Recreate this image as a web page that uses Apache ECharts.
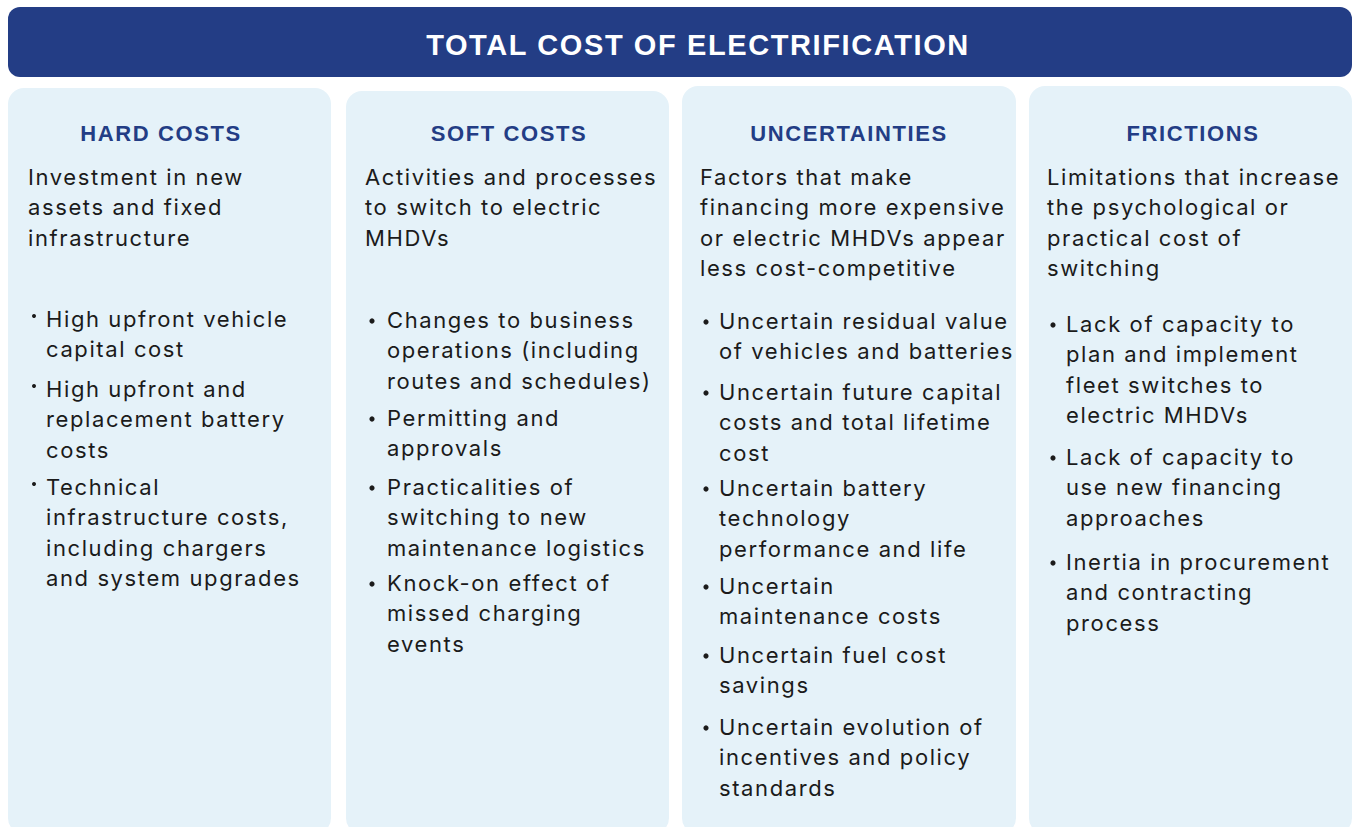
<!DOCTYPE html>
<html>
<head>
<meta charset="utf-8">
<script src="https://cdn.jsdelivr.net/npm/echarts@6/dist/echarts.min.js"></script>
<style>
html, body { margin: 0; padding: 0; background: #fff; }
#main { width: 1353px; height: 827px; }
/* 原图文字字距较宽 */
#main svg text { letter-spacing: 1.6px; }
</style>
</head>
<body>
<div id="main"></div>
<script>
var chartDom = document.getElementById('main');
var myChart = echarts.init(chartDom, null, {renderer: 'svg'});

// 文本内容
var title = 'TOTAL COST OF ELECTRIFICATION';
var headings = ['HARD COSTS', 'SOFT COSTS', 'UNCERTAINTIES', 'FRICTIONS'];
var descriptions = [
    ['Investment in new', 'assets and fixed', 'infrastructure'],
    ['Activities and processes', 'to switch to electric', 'MHDVs'],
    ['Factors that make', 'financing more expensive', 'or electric MHDVs appear', 'less cost-competitive'],
    ['Limitations that increase', 'the psychological or', 'practical cost of', 'switching']
];
var bullets = [
    [
        ['High upfront vehicle', 'capital cost'],
        ['High upfront and', 'replacement battery', 'costs'],
        ['Technical', 'infrastructure costs,', 'including chargers', 'and system upgrades']
    ],
    [
        ['Changes to business', 'operations (including', 'routes and schedules)'],
        ['Permitting and', 'approvals'],
        ['Practicalities of', 'switching to new', 'maintenance logistics'],
        ['Knock-on effect of', 'missed charging', 'events']
    ],
    [
        ['Uncertain residual value', 'of vehicles and batteries'],
        ['Uncertain future capital', 'costs and total lifetime', 'cost'],
        ['Uncertain battery', 'technology', 'performance and life'],
        ['Uncertain', 'maintenance costs'],
        ['Uncertain fuel cost', 'savings'],
        ['Uncertain evolution of', 'incentives and policy', 'standards']
    ],
    [
        ['Lack of capacity to', 'plan and implement', 'fleet switches to', 'electric MHDVs'],
        ['Lack of capacity to', 'use new financing', 'approaches'],
        ['Inertia in procurement', 'and contracting', 'process']
    ]
];

// 布局
var panels = [
    {x: 8, y: 88, w: 323, headX: 161, textX: 28, dotX: 34, bulletX: 46, bulletY: [319, 389, 487]},
    {x: 346, y: 91, w: 323, headX: 509, textX: 365, dotX: 372, bulletX: 387, bulletY: [320, 418, 487, 583]},
    {x: 682, y: 86, w: 334, headX: 849, textX: 700, dotX: 706, bulletX: 719, bulletY: [321, 392, 488, 586, 655, 727]},
    {x: 1029, y: 86, w: 323, headX: 1193, textX: 1047, dotX: 1053, bulletX: 1066, bulletY: [324, 457, 562]}
];
var lineH = 30.4;
var navy = '#233d85';
var bodyFont = 'Inter, "Noto Sans", sans-serif';
var headFont = '"Liberation Sans", Arial, sans-serif';
var textColor = '#1b1b1b';

var elements = [];
// 标题栏
elements.push({
    type: 'rect',
    shape: {x: 8, y: 7, width: 1344, height: 70, r: 12},
    style: {fill: navy}
});
elements.push({
    type: 'text',
    style: {
        x: 698, y: 45, text: title, fill: '#fff',
        font: 'bold 29px ' + headFont,
        align: 'center', verticalAlign: 'middle'
    }
});

panels.forEach(function (p, i) {
    elements.push({
        type: 'rect',
        shape: {x: p.x, y: p.y, width: p.w, height: 834 - p.y, r: 16},
        style: {fill: '#e5f2f9'}
    });
    elements.push({
        type: 'text',
        style: {
            x: p.headX, y: 133, text: headings[i], fill: navy,
            font: 'bold 22px ' + headFont,
            align: 'center', verticalAlign: 'middle'
        }
    });
    descriptions[i].forEach(function (line, k) {
        elements.push({
            type: 'text',
            style: {
                x: p.textX, y: 177 + k * lineH, text: line, fill: textColor,
                font: '22px ' + bodyFont, verticalAlign: 'middle'
            }
        });
    });
    bullets[i].forEach(function (b, j) {
        var y0 = p.bulletY[j];
        elements.push({
            type: 'circle',
            shape: {cx: p.dotX, cy: y0 - (i === 0 ? 4 : 0) + 1, r: i === 0 ? 2 : 2.6},
            style: {fill: textColor}
        });
        b.forEach(function (line, k) {
            elements.push({
                type: 'text',
                style: {
                    x: p.bulletX, y: y0 + k * lineH, text: line, fill: textColor,
                    font: '22px ' + bodyFont, verticalAlign: 'middle'
                }
            });
        });
    });
});

var option = {
    backgroundColor: '#fff',
    animation: false,
    graphic: {elements: elements}
};

option && myChart.setOption(option);
</script>
</body>
</html>
